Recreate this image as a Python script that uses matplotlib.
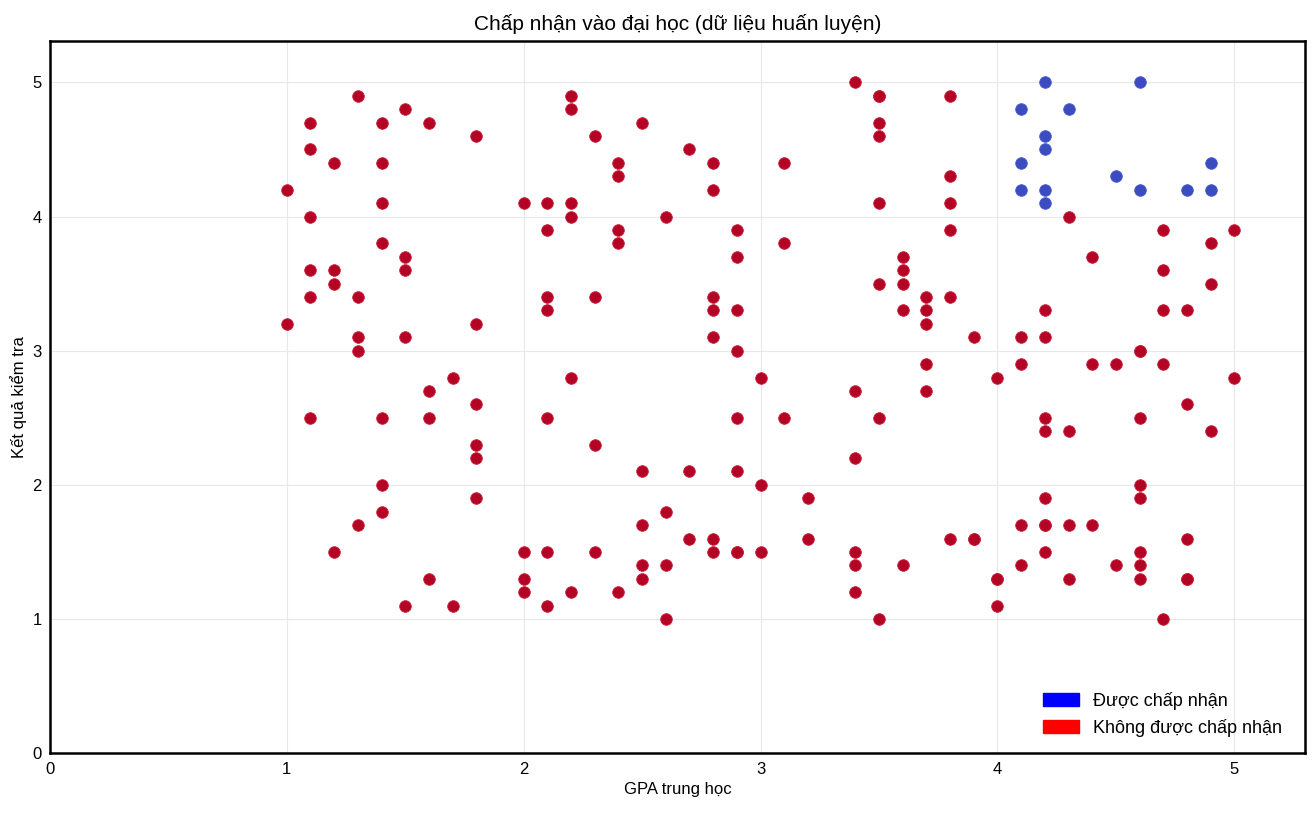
import numpy as np
from matplotlib import pyplot as plt
from matplotlib.patches import Patch

# GPA, test score pairs
accepted_gpa = [4.2, 4.6, 4.1, 4.3, 4.2, 4.2, 4.1, 4.9, 4.5, 4.1, 4.2, 4.6, 4.8, 4.9, 4.2]
accepted_test = [5.0, 5.0, 4.8, 4.8, 4.6, 4.5, 4.4, 4.4, 4.3, 4.2, 4.2, 4.2, 4.2, 4.2, 4.1]

rejected_gpa = [
    1.0, 1.0, 1.1, 1.1, 1.1, 1.1, 1.1, 1.1, 1.2, 1.2, 1.2, 1.2, 1.3, 1.3, 1.3, 1.3, 1.3,
    1.4, 1.4, 1.4, 1.4, 1.4, 1.4, 1.4, 1.5, 1.5, 1.5, 1.5, 1.5, 1.6, 1.6, 1.6, 1.6,
    1.7, 1.7, 1.8, 1.8, 1.8, 1.8, 1.8, 1.8,
    2.0, 2.0, 2.0, 2.0, 2.1, 2.1, 2.1, 2.1, 2.1, 2.1, 2.1, 2.2, 2.2, 2.2, 2.2, 2.2, 2.2,
    2.3, 2.3, 2.3, 2.3, 2.4, 2.4, 2.4, 2.4, 2.4, 2.5, 2.5, 2.5, 2.5, 2.5, 2.6, 2.6, 2.6, 2.6,
    2.7, 2.7, 2.7, 2.8, 2.8, 2.8, 2.8, 2.8, 2.8, 2.8, 2.9, 2.9, 2.9, 2.9, 2.9, 2.9, 2.9, 2.9,
    3.0, 3.0, 3.0, 3.1, 3.1, 3.1, 3.2, 3.2,
    3.4, 3.4, 3.4, 3.4, 3.4, 3.4, 3.5, 3.5, 3.5, 3.5, 3.5, 3.5, 3.5, 3.5,
    3.6, 3.6, 3.6, 3.6, 3.6, 3.7, 3.7, 3.7, 3.7, 3.7, 3.8, 3.8, 3.8, 3.8, 3.8, 3.8,
    3.9, 3.9, 3.9, 4.0, 4.0, 4.0, 4.0,
    4.1, 4.1, 4.1, 4.1, 4.2, 4.2, 4.2, 4.2, 4.2, 4.2, 4.2, 4.2, 4.3, 4.3, 4.3, 4.3,
    4.4, 4.4, 4.4, 4.5, 4.5, 4.6, 4.6, 4.6, 4.6, 4.6, 4.6, 4.6, 4.6,
    4.7, 4.7, 4.7, 4.7, 4.7, 4.8, 4.8, 4.8, 4.8, 4.8, 4.9, 4.9, 4.9, 5.0, 5.0,
]
rejected_test = [
    4.2, 3.2, 4.7, 4.5, 4.0, 3.6, 3.4, 2.5, 4.4, 3.6, 3.5, 1.5, 4.9, 3.4, 3.1, 3.0, 1.7,
    4.7, 4.4, 4.1, 3.8, 2.5, 2.0, 1.8, 4.8, 3.7, 3.6, 3.1, 1.1, 4.7, 2.7, 2.5, 1.3,
    2.8, 1.1, 4.6, 3.2, 2.6, 2.3, 2.2, 1.9,
    4.1, 1.5, 1.3, 1.2, 4.1, 3.9, 3.4, 3.3, 2.5, 1.5, 1.1, 4.9, 4.8, 4.1, 4.0, 2.8, 1.2,
    4.6, 3.4, 2.3, 1.5, 4.4, 4.3, 3.9, 3.8, 1.2, 4.7, 2.1, 1.7, 1.4, 1.3, 4.0, 1.8, 1.4, 1.0,
    4.5, 2.1, 1.6, 4.4, 4.2, 3.4, 3.3, 3.1, 1.6, 1.5, 3.9, 3.7, 3.3, 3.0, 2.5, 2.1, 1.5, 1.5,
    2.8, 2.0, 1.5, 4.4, 3.8, 2.5, 1.9, 1.6,
    5.0, 2.7, 2.2, 1.5, 1.4, 1.2, 4.9, 4.7, 4.6, 4.1, 3.5, 2.5, 1.0, 4.9,
    3.7, 3.6, 3.5, 3.3, 1.4, 3.4, 3.3, 3.2, 2.9, 2.7, 4.3, 4.1, 3.9, 3.4, 1.6, 4.9,
    3.1, 1.6, 1.6, 2.8, 1.3, 1.1, 1.3,
    3.1, 2.9, 1.7, 1.4, 3.3, 3.1, 2.5, 2.4, 1.9, 1.7, 1.5, 1.7, 4.0, 2.4, 1.7, 1.3,
    3.7, 2.9, 1.7, 2.9, 1.4, 3.0, 2.5, 2.0, 1.9, 1.5, 1.4, 1.3, 3.0,
    3.9, 3.6, 3.3, 2.9, 1.0, 3.3, 2.6, 1.6, 1.3, 1.3, 3.8, 3.5, 2.4, 3.9, 2.8,
]

plt.rcParams['font.family'] = ['Liberation Sans', 'DejaVu Sans']

fig, ax = plt.subplots(figsize=(13.12, 8.16), dpi=100)
fig.subplots_adjust(left=0.038, right=0.995, bottom=0.077, top=0.95)

ax.scatter(rejected_gpa, rejected_test, s=70, color="#b40426", edgecolors="#c8203a", linewidths=0.6, zorder=3)
ax.scatter(accepted_gpa, accepted_test, s=70, color="#3b4cc0", edgecolors="#4a5acb", linewidths=0.6, zorder=3)

ax.set_xlim(0, 5.3)
ax.set_ylim(0, 5.31)
ax.set_xticks(range(6))
ax.set_yticks(range(6))
ax.tick_params(labelsize=12, length=0, pad=6)
ax.grid(True, color="#e8e8e8", linewidth=0.8, zorder=0)
ax.set_axisbelow(True)
for sp in ax.spines.values():
    sp.set_linewidth(1.8)
    sp.set_color("black")

ax.set_xlabel("GPA trung học", fontsize=12)
ax.set_ylabel("Kết quả kiểm tra", fontsize=12)
ax.set_title("Chấp nhận vào đại học (dữ liệu huấn luyện)", fontsize=15, pad=8)

handles = [Patch(color="blue", label="Được chấp nhận"), Patch(color="red", label="Không được chấp nhận")]
ax.legend(handles=handles, loc="lower right", bbox_to_anchor=(0.9944, 0.0), frameon=False, fontsize=13)

plt.savefig("out.png")
